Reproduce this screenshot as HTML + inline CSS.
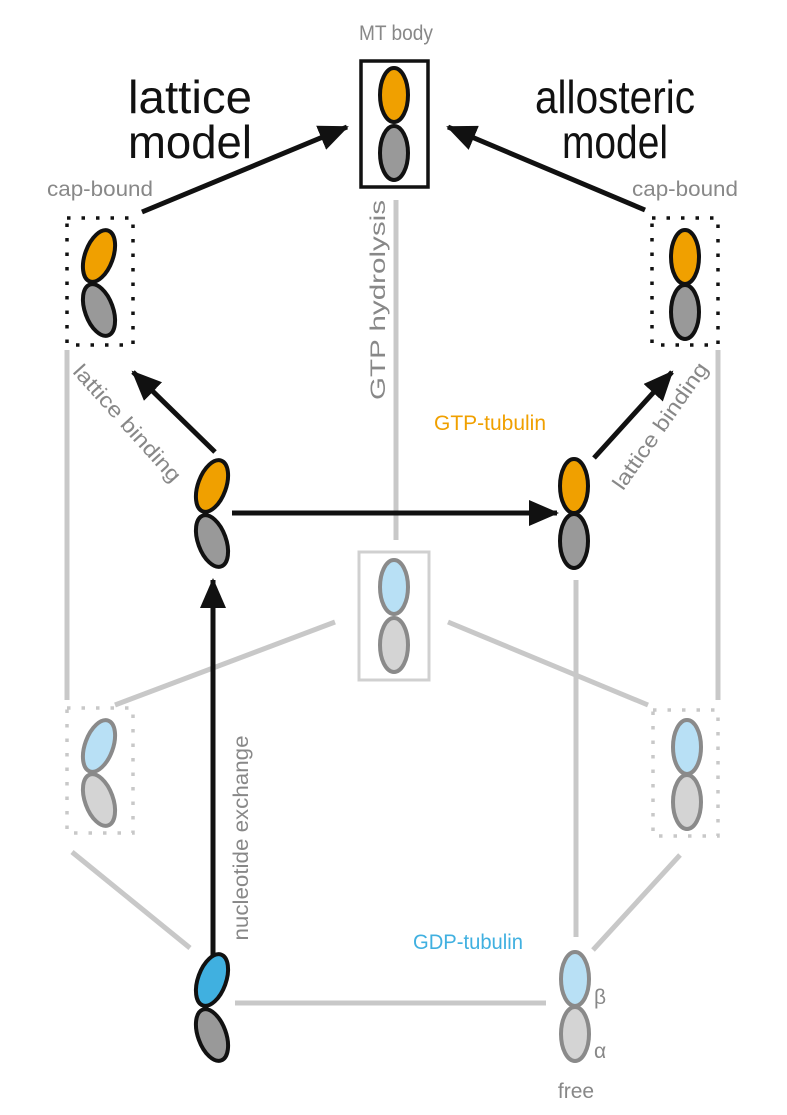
<!DOCTYPE html>
<html><head><meta charset="utf-8"><style>body{margin:0;background:#fff}svg{display:block}</style></head><body>
<svg width="787" height="1115" viewBox="0 0 787 1115" xmlns="http://www.w3.org/2000/svg" font-family="Liberation Sans Narrow, Liberation Sans, sans-serif">
<defs>
<marker id="a2" markerWidth="30" markerHeight="26" refX="28" refY="13" orient="auto" markerUnits="userSpaceOnUse"><path d="M0,0 L30,13 L0,26 z" fill="#111"/></marker>
</defs>
<g stroke="#c8c8c8" stroke-width="5" fill="none">
<line x1="396" y1="200" x2="396" y2="540"/>
<line x1="67" y1="350" x2="67" y2="700"/>
<line x1="718" y1="350" x2="718" y2="700"/>
<line x1="576" y1="580" x2="576" y2="937"/>
<line x1="335" y1="622" x2="115" y2="705"/>
<line x1="448" y1="622" x2="648" y2="705"/>
<line x1="72" y1="852" x2="190" y2="948"/>
<line x1="680" y1="855" x2="593" y2="950"/>
<line x1="235" y1="1003" x2="546" y2="1003"/>
</g>
<rect x="359" y="552" width="70" height="128" fill="none" stroke="#d0d0d0" stroke-width="3"/>
<rect x="67" y="708" width="66" height="125" fill="none" stroke="#c8c8c8" stroke-width="3.5" stroke-dasharray="3.5,11"/>
<rect x="653" y="710" width="65" height="126" fill="none" stroke="#c8c8c8" stroke-width="3.5" stroke-dasharray="3.5,11"/>
<rect x="361" y="61" width="67" height="126" fill="none" stroke="#111" stroke-width="3.5"/>
<rect x="67" y="218" width="66" height="127" fill="none" stroke="#111" stroke-width="3.5" stroke-dasharray="3.5,11"/>
<rect x="652" y="218" width="66" height="127" fill="none" stroke="#111" stroke-width="3.5" stroke-dasharray="3.5,11"/>
<g stroke="#111" stroke-width="5" fill="none">
<line x1="142" y1="212" x2="347" y2="127" marker-end="url(#a2)"/>
<line x1="645" y1="210" x2="448" y2="127" marker-end="url(#a2)"/>
<line x1="215" y1="452" x2="133" y2="372" marker-end="url(#a2)"/>
<line x1="594" y1="458" x2="672" y2="372" marker-end="url(#a2)"/>
<line x1="232" y1="513" x2="557" y2="513" marker-end="url(#a2)"/>
<line x1="213" y1="960" x2="213" y2="580" marker-end="url(#a2)"/>
</g>
<g stroke-width="4">
<ellipse cx="394" cy="95" rx="14" ry="27" fill="#f0a000" stroke="#111"/>
<ellipse cx="394" cy="153" rx="14" ry="27" fill="#999" stroke="#111"/>
<ellipse cx="685" cy="257" rx="14" ry="27" fill="#f0a000" stroke="#111"/>
<ellipse cx="685" cy="312" rx="14" ry="27" fill="#999" stroke="#111"/>
<ellipse cx="574" cy="486" rx="14" ry="27" fill="#f0a000" stroke="#111"/>
<ellipse cx="574" cy="541" rx="14" ry="27" fill="#999" stroke="#111"/>
<ellipse cx="0" cy="0" rx="14" ry="27" fill="#f0a000" stroke="#111" transform="translate(99,256) rotate(20)"/>
<ellipse cx="0" cy="0" rx="14" ry="27" fill="#999" stroke="#111" transform="translate(99,310) rotate(-20)"/>
<ellipse cx="0" cy="0" rx="14" ry="27" fill="#f0a000" stroke="#111" transform="translate(212,486) rotate(20)"/>
<ellipse cx="0" cy="0" rx="14" ry="27" fill="#999" stroke="#111" transform="translate(212,541) rotate(-20)"/>
<ellipse cx="0" cy="0" rx="14" ry="27" fill="#40b0e0" stroke="#111" transform="translate(212,980) rotate(20)"/>
<ellipse cx="0" cy="0" rx="14" ry="27" fill="#999" stroke="#111" transform="translate(212,1035) rotate(-20)"/>
</g>
<g stroke="#8a8a8a" stroke-width="4">
<ellipse cx="394" cy="587" rx="14" ry="27" fill="#b8e0f5"/>
<ellipse cx="394" cy="645" rx="14" ry="27" fill="#d4d4d4"/>
<ellipse cx="687" cy="747" rx="14" ry="27" fill="#b8e0f5"/>
<ellipse cx="687" cy="802" rx="14" ry="27" fill="#d4d4d4"/>
<ellipse cx="575" cy="979" rx="14" ry="27" fill="#b8e0f5"/>
<ellipse cx="575" cy="1034" rx="14" ry="27" fill="#d4d4d4"/>
<ellipse cx="0" cy="0" rx="14" ry="27" fill="#b8e0f5" transform="translate(99,746) rotate(20)"/>
<ellipse cx="0" cy="0" rx="14" ry="27" fill="#d4d4d4" transform="translate(99,800) rotate(-20)"/>
</g>
<g fill="#888" font-size="21" text-anchor="middle" lengthAdjust="spacingAndGlyphs">
<text x="396" y="40" textLength="74" lengthAdjust="spacingAndGlyphs">MT body</text>
<text x="100" y="196" textLength="106" lengthAdjust="spacingAndGlyphs">cap-bound</text>
<text x="685" y="196" textLength="106" lengthAdjust="spacingAndGlyphs">cap-bound</text>
<text x="576" y="1098">free</text>
<text x="594" y="1004" text-anchor="start">β</text>
<text x="594" y="1058" text-anchor="start">α</text>
<text transform="translate(385,300) rotate(-90)" textLength="200" lengthAdjust="spacingAndGlyphs">GTP hydrolysis</text>
<text transform="translate(122,428) rotate(48)" textLength="150" lengthAdjust="spacingAndGlyphs">lattice binding</text>
<text transform="translate(666,430) rotate(-55)" textLength="150" lengthAdjust="spacingAndGlyphs">lattice binding</text>
<text transform="translate(248,838) rotate(-90)" textLength="205" lengthAdjust="spacingAndGlyphs">nucleotide exchange</text>
</g>
<text x="490" y="430" fill="#f0a000" font-size="21" text-anchor="middle" textLength="112" lengthAdjust="spacingAndGlyphs">GTP-tubulin</text>
<text x="468" y="949" fill="#40b0e0" font-size="21" text-anchor="middle" textLength="110" lengthAdjust="spacingAndGlyphs">GDP-tubulin</text>
<g fill="#111" font-size="46" text-anchor="middle">
<text x="190" y="113" textLength="124" lengthAdjust="spacingAndGlyphs">lattice</text>
<text x="190" y="158" textLength="124" lengthAdjust="spacingAndGlyphs">model</text>
<text x="615" y="113" textLength="160" lengthAdjust="spacingAndGlyphs">allosteric</text>
<text x="615" y="158" textLength="106" lengthAdjust="spacingAndGlyphs">model</text>
</g>
</svg>
</body></html>
